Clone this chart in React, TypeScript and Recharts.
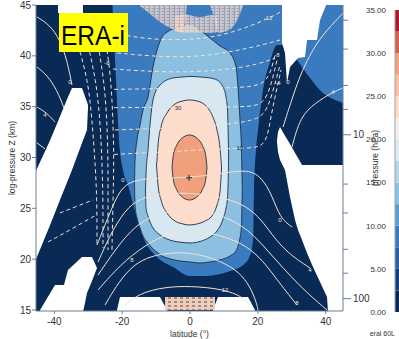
import React from 'react';
import { ComposedChart, Area, Line, Scatter, XAxis, YAxis, CartesianGrid, LabelList, BarChart, Bar } from 'recharts';

// ---------- axes ----------
const latTicks = [-40, -20, 0, 20, 40];
const heightTicks = [15, 20, 25, 30, 35, 40, 45];
const pressureTicks = [2, 3, 4, 5, 6, 7, 8, 9, 10, 20, 30, 40, 50, 60, 70, 80, 90, 100];
const pressureLabelled = [10, 100];
const colorbarLevels = [0, 2.5, 5, 7.5, 10, 12.5, 15, 17.5, 20, 22.5, 25, 27.5, 30, 32.5, 35];
const colorbarTicks = [0, 5, 10, 15, 20, 25, 30, 35];

// ---------- filled contour bands: [lat, lower Z, upper Z] ----------
const band5to10 = [
  [-22.85, 45, 45], [-21.82, 37.62, 45], [-20.93, 31.72, 45], [-19.75, 28.77, 45], [-18.28, 27.3, 45],
  [-17.1, 25.82, 45], [-15.92, 24.34, 45], [-13.86, 22.18, 45], [-9.73, 20.21, 45], [-5.01, 19.23, 45],
  [0, 18.35, 45], [4.42, 18.35, 45], [8.84, 18.54, 45], [12.68, 18.93, 45], [15.62, 19.43, 45],
  [17.39, 20.12, 45], [18.28, 21.1, 45], [18.72, 22.87, 45], [18.87, 26.8, 45], [19.46, 30.74, 45],
  [20.05, 32.71, 45], [21.52, 36.64, 45], [23.58, 39.39, 45], [25.65, 41.07, 45], [28.0, 41.07, 45],
  [31.54, 39.59, 45], [35.38, 37.82, 45], [39.21, 36.34, 45], [42.75, 35.66, 45], [45.2, 35.36, 45],
];
const band10to15 = [
  [-16.36, 27.3, 27.3], [-16.21, 25.33, 29.75], [-15.62, 24.05, 31.72], [-14.74, 23.07, 33.2],
  [-13.86, 22.28, 34.67], [-12.38, 21.59, 35.95], [-10.91, 21.0, 38.9], [-9.43, 20.61, 40.87],
  [-8.25, 20.31, 41.85], [-6.78, 20.12, 42.34], [-2.95, 19.82, 42.84], [0, 19.72, 43.13],
  [2.95, 19.62, 42.54], [5.9, 19.72, 41.75], [8.84, 19.92, 40.97], [11.79, 20.31, 40.28],
  [13.56, 20.8, 38.9], [14.15, 21.3, 36.93], [14.74, 22.08, 33.69], [15.18, 23.36, 30.74],
  [15.33, 25.33, 28.28], [15.42, 26.8, 26.8],
];
const band15to20 = [
  [-13.12, 26.8, 26.8], [-12.97, 25.03, 28.28], [-12.38, 24.25, 30.74], [-11.79, 23.66, 33.2],
  [-10.91, 23.07, 35.66], [-8.84, 22.38, 37.13], [-5.01, 21.79, 37.82], [-2.06, 21.64, 37.92],
  [0, 21.59, 37.97], [2.95, 21.74, 37.92], [5.9, 22.18, 37.82], [7.96, 22.77, 37.62],
  [9.73, 23.95, 36.93], [10.61, 25.03, 35.95], [11.06, 26.02, 34.67], [11.29, 28.28, 31.72],
  [11.38, 30.05, 30.05],
];
const band20to25 = [
  [-9.88, 29.26, 29.26], [-9.73, 28.57, 29.75], [-9.43, 27.3, 31.23], [-8.55, 25.82, 33.0],
  [-6.78, 24.54, 34.38], [-4.42, 23.75, 35.26], [-2.06, 23.46, 35.56], [-0.29, 23.36, 35.66],
  [2.06, 23.46, 35.56], [4.42, 23.75, 35.16], [6.49, 24.25, 34.18], [7.96, 25.33, 32.71],
  [8.84, 26.61, 30.93], [9.14, 27.98, 29.75], [9.29, 28.97, 28.97],
];
const band25to30 = [
  [-5.31, 29.02, 29.02], [-4.87, 27.72, 30.32], [-3.98, 26.87, 31.16], [-2.51, 26.17, 31.86],
  [-0.15, 25.82, 32.21], [2.21, 26.17, 31.86], [3.69, 26.87, 31.16], [4.57, 27.72, 30.32],
  [5.01, 29.02, 29.02],
];

// ---------- missing data (white) ----------
const missingUpperLeft = [
  [-45.4, 20.0, 28.7], [-41.27, 23.33, 31.67], [-38.33, 25.81, 34.04], [-35.97, 27.79, 35.95],
  [-34.79, 28.77, 36.84], [-31.84, 31.43, 36.84], [-30.37, 32.71, 35.46], [-30.07, 34.87, 35.16],
];
const missingTopLeft = [[-38.92, 44.21, 45.2], [-31.55, 44.21, 45.2]];
const missingLowerLeft = [
  [-44.2, 14.8, 15.0], [-39.8, 14.8, 17.46], [-37.15, 14.8, 17.46], [-35.97, 14.8, 18.93],
  [-31.84, 14.8, 20.21], [-31.55, 14.8, 20.21], [-30.96, 15.69, 20.21], [-30.37, 16.67, 20.21],
  [-28.89, 17.85, 20.21], [-27.42, 19.13, 19.13],
];
const missingBottomA = [[-21.52, 14.8, 15.0], [-20.64, 14.8, 16.28], [-8.84, 14.8, 16.28], [-6.78, 14.8, 15.0]];
const missingBottomB = [[6.78, 14.8, 15.0], [8.25, 14.8, 16.28], [17.1, 14.8, 16.28], [19.16, 14.8, 15.0]];
const missingRight = [
  [25.65, 31.52, 31.72], [25.94, 30.54, 32.51], [26.53, 29.75, 33.0], [28.0, 28.77, 32.15],
  [29.48, 26.11, 31.33], [30.96, 23.85, 30.44], [31.84, 22.87, 29.95], [33.02, 21.89, 29.26],
  [34.49, 20.61, 29.26], [36.26, 19.23, 29.26], [40.39, 16.28, 29.26], [40.68, 14.8, 29.26],
  [45.3, 14.8, 29.26],
];
const missingTopRight = [
  [27.12, 41.26, 45.2], [28.0, 40.28, 45.2], [28.59, 37.33, 45.2], [29.48, 38.9, 45.2],
  [31.84, 39.79, 45.2], [33.9, 39.89, 45.2], [34.49, 41.56, 45.2], [37.44, 41.56, 45.2],
  [38.33, 43.52, 45.2], [40.39, 45.2, 45.2],
];

// ---------- hatched (flagged) regions ----------
const hatchTopLeft = [
  [-14.74, 44.9, 45.2], [-11.79, 44.11, 45.2], [-8.84, 43.33, 45.2], [-5.9, 42.74, 45.2],
  [-3.83, 42.44, 45.2], [-2.5, 42.3, 45.2], [-1.5, 43.5, 45.2], [-0.9, 45.0, 45.2],
];
const hatchTopMid = [
  [-4.5, 42.5, 43.9], [-1.47, 42.25, 44.1], [2.95, 42.25, 43.82], [6.49, 42.25, 44.02], [8.0, 42.35, 43.6],
];
const hatchTopRight = [
  [6.0, 44.9, 45.2], [7.2, 43.6, 45.2], [8.25, 42.25, 45.2], [10.91, 42.44, 45.2],
  [13.27, 43.13, 45.2], [15.62, 44.9, 45.2],
];
const hatchBottom = [[-7.37, 15.0, 16.28], [7.37, 15.0, 16.28]];

// ---------- contour lines: [lat, Z] ----------
const dashedLines = [
  [[-22.7, 42.25], [-11.79, 41.56], [2.95, 41.56], [13.27, 42.34], [23.0, 43.62], [27.71, 44.51]],
  [[-21.52, 40.28], [-8.84, 39.89], [2.95, 39.89], [14.74, 40.57], [21.23, 41.07], [26.53, 41.56]],
  [[-22.7, 38.7], [-8.84, 38.41], [2.95, 38.41], [14.74, 38.8], [21.23, 39.3], [25.06, 39.79]],
  [[-22.4, 36.7], [2.95, 36.84], [14.74, 36.84], [21.23, 37.13], [23.58, 38.11], [25.06, 40.08]],
  [[-22.4, 34.9], [2.95, 34.97], [16.21, 34.97], [21.23, 35.16], [23.58, 36.64], [25.65, 39.59]],
  [[-22.11, 32.71], [2.95, 33.0], [17.69, 33.49], [22.11, 34.18], [24.17, 36.15], [26.53, 39.1]],
  [[-22.4, 30.3], [2.95, 30.74], [14.74, 30.93], [21.23, 30.93], [23.0, 32.21], [24.17, 34.67], [26.83, 38.61]],
  [[-33.02, 41.07], [-30.07, 37.62], [-28.89, 33.69], [-28.01, 29.75], [-27.42, 25.82], [-27.42, 21.39]],
  [[-30.07, 41.07], [-27.71, 37.62], [-26.53, 33.69], [-25.94, 29.75], [-25.65, 25.82], [-25.65, 21.1]],
  [[-27.12, 41.07], [-25.35, 37.62], [-24.47, 33.69], [-24.17, 29.75], [-24.17, 25.82], [-24.17, 20.9]],
  [[-24.47, 40.57], [-23.29, 37.62], [-22.7, 33.69], [-22.41, 29.75], [-22.7, 25.82], [-23.0, 20.9]],
  [[-38.33, 24.54], [-33.9, 25.13], [-28.6, 25.82]],
  [[-41.86, 21.69], [-35.38, 22.87], [-27.71, 24.34]],
];
const solidLines = [
  [[-27.42, 21.39], [-25.06, 23.36], [-22.11, 25.82], [-19.16, 27.49], [-13.27, 27.98], [0, 27.98], [11.79, 28.57], [17.69, 28.77], [21.23, 27.98], [24.17, 26.31], [26.53, 24.05], [30.07, 23.16]],
  [[-27.12, 19.72], [-23.58, 22.38], [-19.16, 24.84], [-14.74, 26.02], [-7.37, 26.51], [2.95, 26.51], [17.69, 25.53], [24.47, 22.18], [29.48, 20.41], [35.38, 19.13]],
  [[-27.12, 18.44], [-22.11, 20.9], [-16.21, 23.36], [-8.84, 24.64], [2.95, 25.03], [15.62, 23.55], [22.7, 20.9], [32.43, 17.26], [40.39, 15.0]],
  [[-27.12, 16.97], [-20.64, 19.43], [-13.27, 21.39], [-5.9, 22.67], [2.95, 22.87], [17.69, 21.59], [25.65, 17.95], [31.54, 15.49]],
  [[-25.06, 15.49], [-17.1, 19.92], [-5.9, 20.71], [2.95, 20.61], [15.62, 18.93], [19.75, 15.69], [20.05, 14.9]],
  [[-19.16, 15.49], [-14.74, 16.67], [-7.37, 17.26], [0, 17.36], [9.73, 17.07], [15.62, 16.28], [17.69, 15.49]],
  [[27.42, 33.0], [29.48, 35.16], [32.43, 38.11], [35.38, 40.08], [37.44, 41.26], [40.39, 42.54], [45.1, 44.21]],
  [[30.07, 31.03], [32.43, 33.98], [36.85, 35.36], [42.16, 36.44], [45.1, 36.84]],
  [[-45.1, 43.82], [-41.27, 43.03], [-38.33, 41.56], [-36.26, 39.59], [-34.79, 37.13]],
  [[-45.1, 38.9], [-42.16, 38.11], [-39.21, 36.64], [-37.15, 34.87]],
  [[-45.1, 34.97], [-42.16, 34.38], [-39.8, 33.49]],
  [[-45.1, 31.43], [-42.75, 30.84]],
];
const contourLabels = [
  [23.0, 43.72, '-12'], [-24.47, 39.3, '-8'], [-35.38, 37.43, '0'], [-42.75, 34.18, '4'],
  [25.65, 40.08, '-8'], [25.94, 37.33, '-4'], [28.89, 37.43, '0'], [42.16, 36.44, '4'],
  [26.53, 23.85, '0'], [35.38, 18.93, '4'], [31.54, 15.69, '8'], [-17.1, 19.92, '8'],
  [10.32, 16.97, '12'], [-19.75, 27.79, '0'], [-11.79, 24.15, '4'],
];
const bandLabels = [[-3.5, 34.9, '30'], [14.7, 30.9, '10']];
const centreMark = [[-0.3, 28.0]];

// ---------- styling ----------
const NAVY = '#0a2a56';
const BLUE = '#3a7bbf';
const LIGHTBLUE = '#8cbfe0';
const VLIGHT = '#d8e8f3';
const PEACH = '#fddccb';
const SALMON = '#f0a07c';
const DARKLINE = '#1d2d44';
const CONTOUR = '#efe3d6';
const AXIS = '#6b7f94';
const TEXT = '#333333';
const FONT = '"Liberation Sans", Arial, sans-serif';
const colorbarColors = ['#0a2a56', '#12407a', '#2a5f9e', '#3a7bbf', '#5e9dcf', '#8cbfe0', '#b7d6ea', '#dbe9f3',
  '#f4efec', '#fbdccb', '#f7bfa4', '#f0a07c', '#d7604f', '#b2182b'];

const latDomain = [-45.4, 45.1];
const zDomain = [14.9, 45];

const toBand = (rows: any[]) => rows.map((r) => ({ lat: r[0], r: [r[1], r[2]] }));
const toLine = (rows: any[]) => rows.map((r) => ({ lat: r[0], z: r[1] }));
const toText = (rows: any[]) => rows.map((r) => ({ lat: r[0], z: r[1], t: r[2] }));
const pressureZ = pressureTicks.map((p) => 7 * Math.log(1000 / p));

const PressureTick = (props: any) => {
  const { x, y, payload } = props;
  const idx = pressureZ.findIndex((v) => Math.abs(v - payload.value) < 1e-6);
  const p = pressureTicks[idx];
  const major = pressureLabelled.includes(p);
  return (
    <g>
      <line x1={x} x2={x + (major ? 8 : 5)} y1={y} y2={y} stroke={AXIS} strokeWidth={1} />
      {major && (
        <text x={x + 10} y={y} dy="0.35em" fontSize={10} fill={TEXT} fontFamily={FONT}>{p}</text>
      )}
    </g>
  );
};

const CrossShape = (props: any) => {
  const { cx, cy } = props;
  return (
    <g>
      <line x1={cx - 3} x2={cx + 3} y1={cy} y2={cy} stroke="#222" strokeWidth={1} />
      <line x1={cx} x2={cx} y1={cy - 3} y2={cy + 3} stroke="#222" strokeWidth={1} />
    </g>
  );
};

const fills = [
  { rows: band5to10, fill: BLUE, stroke: 'none' },
  { rows: band10to15, fill: LIGHTBLUE, stroke: DARKLINE },
  { rows: band15to20, fill: VLIGHT, stroke: DARKLINE },
  { rows: band20to25, fill: PEACH, stroke: DARKLINE },
  { rows: band25to30, fill: SALMON, stroke: DARKLINE },
];
const whites = [missingUpperLeft, missingTopLeft, missingLowerLeft, missingBottomA, missingBottomB, missingRight, missingTopRight];
const hatches = [hatchTopLeft, hatchTopMid, hatchTopRight];

export default function App() {
  const cbRow: any = { name: 'cb' };
  colorbarColors.forEach((_, i) => { cbRow['s' + i] = colorbarLevels[i + 1] - colorbarLevels[i]; });
  return (
    <div style={{ position: 'fixed', left: 0, top: 0, width: 399, height: 339, overflow: 'hidden', background: '#fff', fontFamily: FONT }}>
      <div style={{ position: 'absolute', left: 0, top: 0 }}>
        <ComposedChart width={399} height={339} margin={{ top: 5, right: 0, bottom: 0, left: 0 }}>
          <defs>
            <pattern id="hatchTop" width="5" height="3" patternUnits="userSpaceOnUse">
              <rect width="5" height="3" fill="#f3d0bf" fillOpacity="0.45" />
              <line x1="0" y1="1" x2="4" y2="1" stroke="#f8ddd0" strokeWidth="1.2" />
              <line x1="0" y1="2.5" x2="2" y2="2.5" stroke="#e9c3b3" strokeWidth="0.6" />
            </pattern>
            <pattern id="hatchBottom" width="6" height="4" patternUnits="userSpaceOnUse">
              <rect width="6" height="4" fill="#f1cdb9" />
              <line x1="0" y1="2" x2="3" y2="2" stroke="#3a3a4a" strokeWidth="0.9" />
            </pattern>
          </defs>
          <CartesianGrid horizontal={false} vertical={false} fill={NAVY} fillOpacity={1} />
          <XAxis type="number" dataKey="lat" domain={latDomain} ticks={latTicks} allowDataOverflow height={28}
            tickSize={3} tickMargin={4} tick={{ fontSize: 10, fill: TEXT, fontFamily: FONT }}
            axisLine={{ stroke: AXIS }} tickLine={{ stroke: AXIS }}
            label={{ value: 'latitude (°)', position: 'insideBottom', offset: 2, fontSize: 8.5, fill: TEXT, fontFamily: FONT }} />
          <XAxis xAxisId="top" orientation="top" type="number" dataKey="lat" domain={latDomain} ticks={latTicks}
            allowDataOverflow height={0} tickSize={3} tickFormatter={() => ''} axisLine={{ stroke: AXIS }} tickLine={{ stroke: AXIS }} />
          <YAxis type="number" dataKey="z" domain={zDomain} ticks={heightTicks} allowDataOverflow width={36}
            tickSize={4} tickMargin={1} tick={{ fontSize: 10, fill: TEXT, fontFamily: FONT }}
            axisLine={{ stroke: AXIS }} tickLine={{ stroke: AXIS }}
            label={{ value: 'log-pressure Z (km)', angle: -90, position: 'insideLeft', offset: 12, fontSize: 8.5, fill: TEXT, fontFamily: FONT, style: { textAnchor: 'middle' } }} />
          <YAxis yAxisId="p" orientation="right" type="number" domain={zDomain} ticks={pressureZ} allowDataOverflow width={56}
            tickSize={0} tickMargin={0} tickLine={false} tick={<PressureTick />} axisLine={{ stroke: AXIS }}
            label={{ value: 'pressure (hPa)', angle: -90, position: 'insideRight', offset: 24, fontSize: 8.5, fill: TEXT, fontFamily: FONT, style: { textAnchor: 'middle' } }} />

          {fills.map((f, i) => (
            <Area key={'f' + i} data={toBand(f.rows)} dataKey="r" type="monotone" fill={f.fill} fillOpacity={1}
              stroke={f.stroke} strokeWidth={0.9} dot={false} activeDot={false} isAnimationActive={false} />
          ))}
          {hatches.map((h, i) => (
            <Area key={'h' + i} data={toBand(h)} dataKey="r" type="monotone" fill="url(#hatchTop)" fillOpacity={1} stroke="none"
              dot={false} activeDot={false} isAnimationActive={false} />
          ))}
          {whites.map((w, i) => (
            <Area key={'w' + i} data={toBand(w)} dataKey="r" type="linear" fill="#ffffff" fillOpacity={1} stroke="none"
              dot={false} activeDot={false} isAnimationActive={false} />
          ))}
          <Area data={toBand(hatchBottom)} dataKey="r" type="linear" fill="url(#hatchBottom)" fillOpacity={1} stroke="none"
            dot={false} activeDot={false} isAnimationActive={false} />

          {dashedLines.map((l, i) => (
            <Line key={'d' + i} data={toLine(l)} dataKey="z" type="basis" stroke={CONTOUR} strokeWidth={1}
              strokeDasharray="4 3" dot={false} activeDot={false} isAnimationActive={false} />
          ))}
          {solidLines.map((l, i) => (
            <Line key={'s' + i} data={toLine(l)} dataKey="z" type="basis" stroke={CONTOUR} strokeWidth={1}
              dot={false} activeDot={false} isAnimationActive={false} />
          ))}
          <Scatter data={toText(contourLabels)} shape={() => <g />} isAnimationActive={false}>
            <LabelList dataKey="t" position="center" fontSize={6} fill={CONTOUR} fontFamily={FONT} />
          </Scatter>
          <Scatter data={toText(bandLabels)} shape={() => <g />} isAnimationActive={false}>
            <LabelList dataKey="t" position="center" fontSize={6} fill={DARKLINE} fontFamily={FONT} />
          </Scatter>
          <Scatter data={toLine(centreMark)} shape={<CrossShape />} isAnimationActive={false} />
        </ComposedChart>
      </div>

      <div style={{ position: 'absolute', left: 345, top: 0 }}>
        <BarChart width={60} height={339} data={[cbRow]} margin={{ top: 10, right: 0, bottom: 27, left: 0 }} barCategoryGap={0}>
          <XAxis dataKey="name" hide />
          <YAxis type="number" domain={[0, 35]} ticks={colorbarTicks} width={50} tickLine={false} tickMargin={3}
            tickFormatter={(v: number) => v.toFixed(2)} axisLine={{ stroke: '#9aa4ae' }}
            tick={{ fontSize: 8, fill: TEXT, fontFamily: FONT }} />
          {colorbarColors.map((c, i) => (
            <Bar key={'cb' + i} dataKey={'s' + i} stackId="cb" fill={c} isAnimationActive={false} />
          ))}
        </BarChart>
      </div>

      <svg width={399} height={339} style={{ position: 'absolute', left: 0, top: 0, pointerEvents: 'none' }}>
        <rect x={59} y={13} width={69} height={39} fill="#ffff00" />
        <text x={61} y={45} fontSize={28} fill="#000" fontFamily={FONT} textLength={64} lengthAdjust="spacingAndGlyphs">ERA-i</text>
        <text x={395} y={336} fontSize={7} fill={TEXT} fontFamily={FONT} textAnchor="end">erai 60L</text>
      </svg>
    </div>
  );
}
